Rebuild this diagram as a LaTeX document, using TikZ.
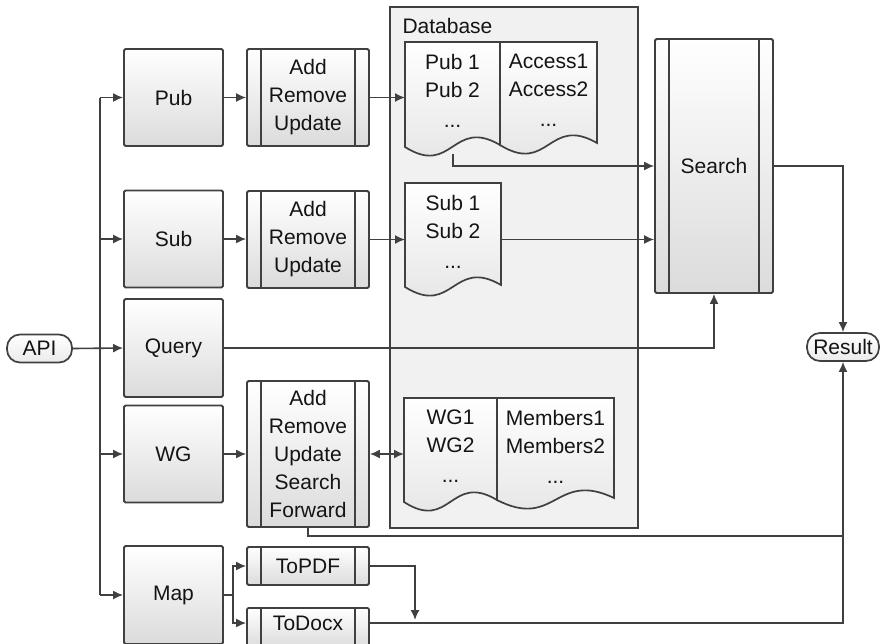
\documentclass[tikz,border=0pt]{standalone}
\usepackage{fontspec}
\setmainfont{Liberation Sans}
\usetikzlibrary{arrows.meta,calc}
\definecolor{ln}{HTML}{404040}
\definecolor{dbfill}{HTML}{F1F1F1}
\newcommand\docnode[6]{%
  \path[draw=ln, line width=1.7pt, top color=white, bottom color=black!11]
    (#2,#4) -- (#3,#4) -- (#3,{#5-2})
    .. controls ({(#2+#3)/2},{#5-30}) and ({(#2+#3)/2},{#5+30}) .. (#2,#5) -- cycle;
  \node[inner sep=0pt, minimum width={#3-#2}, minimum height={#5-#4}, anchor=north west] (#1) at (#2,#4) {};
  \node[inner sep=0pt, anchor=north, align=center] (#1txt) at ({(#2+#3)/2},{#4+12}) {#6};
}
\newcommand\proclines[1]{%
  \draw[ln, line width=1.7pt] ([xshift=15pt]#1.north west) -- ([xshift=15pt]#1.south west);
  \draw[ln, line width=1.7pt] ([xshift=-15pt]#1.north east) -- ([xshift=-15pt]#1.south east);
}
\begin{document}
\begin{tikzpicture}[x=1pt,y=-1pt,
  every node/.style={font=\fontsize{21}{28}\selectfont, text=black!92},
  box/.style={draw=ln, line width=1.8pt, rounded corners=1.5pt, top color=white, bottom color=black!14,
    inner sep=0pt, minimum width=99pt, minimum height=97pt, align=center},
  proc/.style={box, minimum width=122pt},
  conn/.style={draw=ln, line width=1.6pt},
  arr/.style={conn, -{Latex[length=10pt,width=9pt]}},
  darr/.style={conn, {Latex[length=10pt,width=9pt]}-{Latex[length=10pt,width=9pt]}},
  term/.style={draw=ln, line width=1.7pt, rounded corners=13pt, top color=white, bottom color=black!8,
    inner sep=0pt, minimum height=28pt},
]
\useasboundingbox (0,0) rectangle (880,643);

% database container
\node[draw=ln, line width=1.8pt, fill=dbfill, minimum width=248pt, minimum height=521pt,
  anchor=north west, inner sep=0pt] (db) at (389,6) {};
\node[anchor=west] (dblabel) at (399,26) {Database};

% documents
\docnode{pubdoc}{405}{500}{42}{147}{Pub 1\\Pub 2\\[2pt]...}
\docnode{accdoc}{500}{597}{42}{145}{Access1\\Access2\\[2pt]...}
\docnode{subdoc}{405}{501}{183}{287}{Sub 1\\Sub 2\\[2pt]...}
\docnode{wgdoc}{404}{497}{398}{502}{WG1\\WG2\\[2pt]...}
\docnode{memdoc}{497}{614}{398}{500}{Members1\\Members2\\[2pt]...}

% terminals
\node[term, minimum width=65pt] (api) at (39.5,348.5) {API};
\node[term, minimum width=72pt] (result) at (843,347) {Result};

% plain boxes
\node[box] (pub) at (173.5,97.5) {Pub};
\node[box] (sub) at (173.5,239) {Sub};
\node[box, minimum height=98pt] (query) at (173.5,348) {Query};
\node[box] (wg) at (173.5,454) {WG};
\node[box, minimum height=98pt] (map) at (173.5,595) {Map};

% process boxes
\node[proc] (pubaru) at (308,97.5) {Add\\Remove\\Update};
\proclines{pubaru}
\node[proc] (subaru) at (308,239.5) {Add\\Remove\\Update};
\proclines{subaru}
\node[proc, minimum height=146pt] (wgaru) at (308,454) {Add\\Remove\\Update\\Search\\Forward};
\proclines{wgaru}
\node[proc, minimum height=38pt] (topdf) at (308,566) {ToPDF};
\proclines{topdf}
\node[proc, minimum height=40pt, anchor=north] (todocx) at (308,607) {};
\proclines{todocx}
\node (todocxtxt) at (308,623) {ToDocx};
\node[proc, minimum width=118pt, minimum height=254pt] (search) at (714,166) {Search};
\proclines{search}

% API bus
\coordinate (bus) at (100,348);
\draw[conn] (bus |- pub.west) -- (bus |- map.west);
\draw[arr] (api.east) -- (query.west);
\draw[arr] (bus |- pub.west) -- (pub.west);
\draw[arr] (bus |- sub.west) -- (sub.west);
\draw[arr] (bus |- wg.west) -- (wg.west);
\draw[arr] (bus |- map.west) -- (map.west);

% boxes to processes
\draw[arr] (pub.east) -- (pubaru.west);
\draw[arr] (sub.east) -- (subaru.west |- sub.east);
\draw[arr] (wg.east) -- (wgaru.west |- wg.east);

% processes to database
\draw[arr] (pubaru.east) -- (pubaru.east -| pubdoc.west);
\draw[arr] (subaru.east) -- (subaru.east -| subdoc.west);
\draw[darr] (wgaru.east) -- (wgaru.east -| wgdoc.west);

% database to search
\coordinate (pubdocB) at (453,154);
\draw[arr] (pubdocB) |- (search.west);
\draw[arr] (subdoc.east |- subaru.east) -- (search.west |- subaru.east);
\draw[arr] (query.east) -| (search.south);

% to result
\draw[arr] (search.east) -| (result.north);
\coordinate (wgj) at (843,536);
\draw[conn] (wgaru.south) |- (wgj);

% map branch
\coordinate (msplit) at (233,595);
\draw[conn] (map.east) -- (msplit);
\draw[arr] (msplit) |- (topdf.west);
\draw[arr] (msplit) |- (todocx.west |- todocxtxt);
\coordinate (pdfdown) at (415,620);
\draw[arr] (topdf.east) -| (pdfdown);
\draw[arr] (todocx.east |- todocxtxt) -| (result.south);
\end{tikzpicture}
\end{document}
